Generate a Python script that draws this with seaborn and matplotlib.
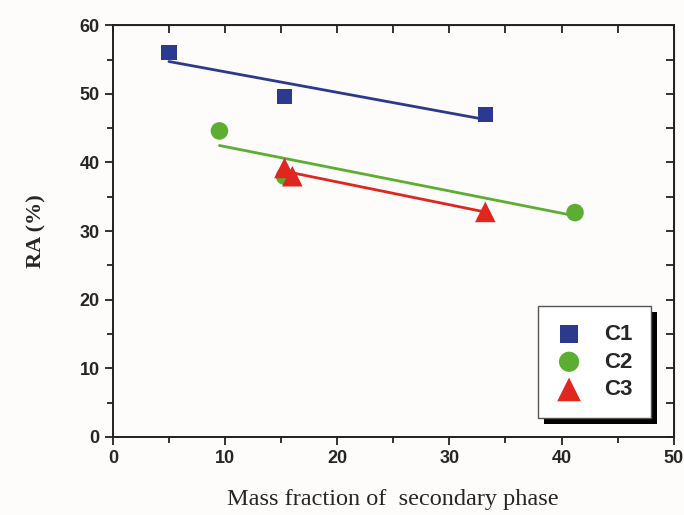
import matplotlib
matplotlib.use("Agg")
import matplotlib.pyplot as plt
import matplotlib.ticker as mticker
from matplotlib.patches import Rectangle
import numpy as np
import pandas as pd
import seaborn as sns

# values
c1_x = [5.0, 15.3, 33.2]
c1_y = [56.0, 49.6, 47.0]
c2_x = [9.5, 15.3, 41.2]
c2_y = [44.6, 38.0, 32.7]
c3_x = [15.3, 16.0, 33.2]
c3_y = [39.2, 38.0, 32.8]

series = [
    ("C1", c1_x, c1_y, "#2b3a8f", "s", 120),
    ("C2", c2_x, c2_y, "#5cae33", "o", 160),
    ("C3", c3_x, c3_y, "#e1261f", "^", 220),
]

sns.set_style("ticks")
plt.rcParams["font.family"] = ["Liberation Sans", "DejaVu Sans"]

fig = plt.figure(figsize=(6.84, 5.15), dpi=100)
fig.patch.set_facecolor("#fdfcfa")
ax = fig.add_axes([0.165, 0.1515, 0.82, 0.7995])
ax.set_facecolor("#fdfcfa")

for name, xs, ys, col, mk, size in series:
    df = pd.DataFrame({"x": xs, "y": ys})
    sns.regplot(data=df, x="x", y="y", ci=None, scatter=False, truncate=True,
                color=col, line_kws={"linewidth": 2.0}, ax=ax)
    sns.scatterplot(data=df, x="x", y="y", color=col, marker=mk, s=size,
                    edgecolor="none", label=name, ax=ax, zorder=3)

ax.set_xlim(0, 50)
ax.set_ylim(0, 60)
ax.xaxis.set_major_locator(mticker.MultipleLocator(10))
ax.xaxis.set_minor_locator(mticker.MultipleLocator(5))
ax.yaxis.set_major_locator(mticker.MultipleLocator(10))
ax.yaxis.set_minor_locator(mticker.MultipleLocator(5))
ax.tick_params(which="major", direction="out", length=6, width=1.3,
               labelsize=13, color="#222222")
ax.tick_params(which="minor", direction="out", length=4, width=1.3, color="#222222")
for lab in ax.get_xticklabels() + ax.get_yticklabels():
    lab.set_fontweight("bold")
for sp in ax.spines.values():
    sp.set_visible(True)
    sp.set_linewidth(1.4)
    sp.set_color("#222222")

top = ax.secondary_xaxis("top")
top.xaxis.set_major_locator(mticker.MultipleLocator(5))
top.tick_params(direction="in", length=6, width=1.3, labeltop=False, color="#222222")
right = ax.secondary_yaxis("right")
right.yaxis.set_major_locator(mticker.MultipleLocator(5))
right.tick_params(direction="in", length=6, width=1.3, labelright=False, color="#222222")

ax.set_xlabel("Mass fraction of  secondary phase", family=["Liberation Serif"],
              fontsize=17.5, labelpad=16)
ax.set_ylabel("RA (%)", family=["Liberation Serif"], fontweight="bold",
              fontsize=16, labelpad=24)

leg = ax.legend(loc="lower right", bbox_to_anchor=(0.959, 0.046), fancybox=False,
                framealpha=1, edgecolor="#555555", borderpad=0.8, labelspacing=0.3,
                handletextpad=1.0, handlelength=1.2, borderaxespad=0, markerscale=1.15,
                prop={"family": "Liberation Sans", "weight": "bold", "size": 16})
leg.get_frame().set_linewidth(1.0)

# black drop shadow behind the legend box
fig.canvas.draw()
bb = leg.get_window_extent()
ax.add_patch(Rectangle((bb.x0 + 6, bb.y0 - 6), bb.width, bb.height, transform=None,
                       facecolor="black", edgecolor="none", zorder=4.9, clip_on=False))

fig.savefig("out.png", dpi=100, facecolor=fig.get_facecolor())
